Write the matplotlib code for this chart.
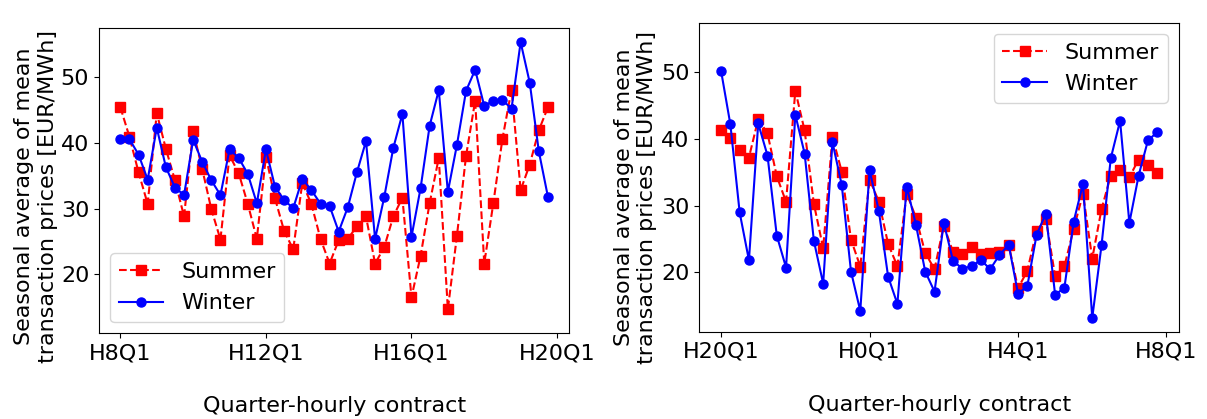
import matplotlib.pyplot as plt
import numpy as np

# mean transaction prices per quarter-hour, EUR/MWh
day_summer = [45.4, 40.9, 35.5, 30.7, 44.5, 39.1, 34.3, 28.8,
              41.8, 36.0, 29.9, 25.3, 38.1, 35.4, 30.75, 25.4,
              37.9, 31.55, 26.6, 23.8, 33.9, 30.7, 25.4, 21.65,
              25.2, 25.4, 27.3, 28.8, 21.65, 24.1, 28.8, 31.65,
              16.5, 22.8, 30.85, 37.7, 14.7, 25.9, 38.0, 46.4,
              21.65, 30.85, 40.6, 48.1, 32.8, 36.7, 41.9, 45.4]
day_winter = [40.55, 40.55, 38.2, 34.4, 42.3, 36.3, 33.2, 32.05,
              40.45, 37.1, 34.3, 32.05, 39.0, 37.7, 35.3, 30.8,
              39.0, 33.3, 31.3, 30.05, 34.5, 32.8, 30.75, 30.4,
              26.5, 30.2, 35.5, 40.25, 25.4, 31.7, 39.2, 44.4,
              25.7, 33.1, 42.6, 48.0, 32.55, 39.7, 47.9, 51.1,
              45.6, 46.4, 46.5, 45.2, 55.3, 49.15, 38.7, 31.8]
night_summer = [41.3, 40.15, 38.3, 37.2, 42.95, 40.8, 34.4, 30.55,
                47.2, 41.25, 30.25, 23.6, 40.3, 35.1, 24.9, 20.85,
                33.9, 30.6, 24.25, 20.9, 31.8, 28.2, 22.9, 20.45,
                27.0, 23.0, 22.7, 23.75, 22.7, 22.9, 23.05, 24.1,
                17.6, 20.2, 26.2, 28.0, 19.4, 20.9, 26.5, 31.8,
                22.05, 29.45, 34.5, 35.4, 34.25, 36.9, 36.1, 34.9]
night_winter = [50.15, 42.15, 28.96, 21.8, 42.3, 37.5, 25.5, 20.7,
                43.6, 37.8, 24.7, 18.3, 39.5, 33.1, 20.1, 14.2,
                35.3, 29.2, 19.35, 15.25, 32.85, 27.1, 20.1, 17.1,
                27.4, 21.7, 20.55, 20.9, 21.85, 20.45, 22.6, 24.1,
                16.8, 17.9, 25.6, 28.8, 16.6, 17.7, 27.6, 33.25,
                13.15, 24.05, 37.1, 42.7, 27.4, 34.5, 39.75, 41.0]

day_ticks = ['H8Q1', 'H12Q1', 'H16Q1', 'H20Q1']
night_ticks = ['H20Q1', 'H0Q1', 'H4Q1', 'H8Q1']

fs = 16
W, H = 1207, 419
fig = plt.figure(figsize=(W / 100, H / 100), dpi=100)
ax1 = fig.add_axes([99 / W, 1 - 333.3 / H, 470.3 / W, 305 / H])
ax2 = fig.add_axes([699.3 / W, 1 - 332 / H, 479.7 / W, 309.3 / H])

allv = np.concatenate([day_summer, day_winter, night_summer, night_winter])
lo, hi = allv.min(), allv.max()
pad = 0.05 * (hi - lo)

panels = [(ax1, day_summer, day_winter, day_ticks, 'lower left', 0.45),
          (ax2, night_summer, night_winter, night_ticks, 'upper right', 0.435)]
for ax, summer, winter, ticks, loc, ly in panels:
    x = np.arange(len(summer))
    ax.plot(x, summer, 'r--s', markersize=6.5, label='Summer')
    ax.plot(x, winter, 'b-o', markersize=6.5, label='Winter')
    ax.set_xticks(np.arange(0, 49, 16))
    ax.set_xticklabels(ticks)
    ax.set_xlim(-2.35, 49.35)
    ax.set_ylim(lo - pad, hi + pad)
    ax.set_yticks([20, 30, 40, 50])
    ax.tick_params(labelsize=fs)
    ax.set_xlabel('Quarter-hourly contract', fontsize=fs, labelpad=24)
    ax.set_ylabel('Seasonal average of mean\ntransaction prices [EUR/MWh]',
                  fontsize=fs)
    ax.yaxis.set_label_coords(-0.088, ly)
    ax.legend(loc=loc, fontsize=fs)

fig.savefig('out.png', dpi=100)
